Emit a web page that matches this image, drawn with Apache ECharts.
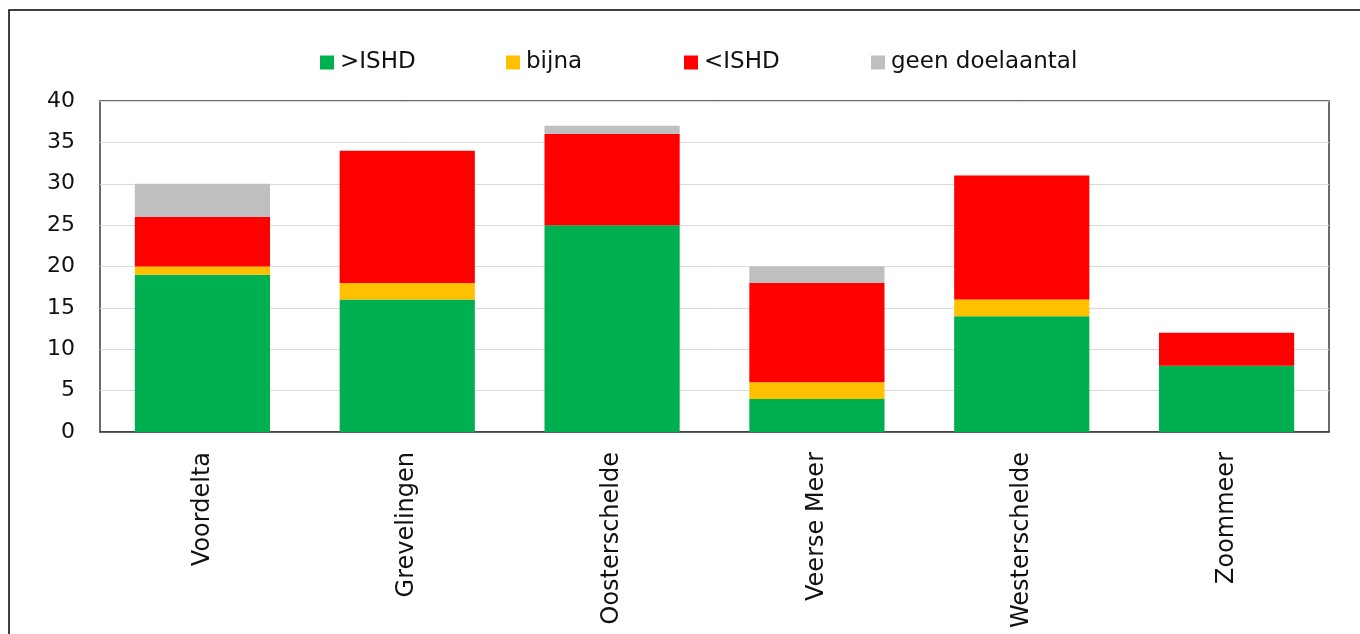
<!DOCTYPE html>
<html>
<head>
<meta charset="utf-8">
<script src="https://cdn.jsdelivr.net/npm/echarts@6/dist/echarts.min.js"></script>
<style>
  html, body { margin: 0; padding: 0; background: #ffffff; }
  #chart { width: 1360px; height: 634px; }
</style>
</head>
<body>
<div id="chart"></div>
<script>
// Areas along the Delta
const categories = ['Voordelta', 'Grevelingen', 'Oosterschelde', 'Veerse Meer', 'Westerschelde', 'Zoommeer'];

// Number of species per status class
const boven = [19, 16, 25, 4, 14, 8];      // >ISHD
const bijna = [1, 2, 0, 2, 2, 0];          // bijna
const onder = [6, 16, 11, 12, 15, 4];      // <ISHD
const geenDoel = [4, 0, 1, 2, 0, 0];       // geen doelaantal

const seriesNames = ['>ISHD', 'bijna', '<ISHD', 'geen doelaantal'];
const seriesValues = [boven, bijna, onder, geenDoel];
const seriesColors = ['#00b050', '#ffc000', '#ff0000', '#bfbfbf'];

// Y-axis ticks
const yMin = 0, yMax = 40, yStep = 5;

const font = 'DejaVu Sans';
const textColor = '#111111';

// One legend block per entry so each sits at its own spot in the row
const legendLefts = [315, 501, 679, 866];
const legends = seriesNames.map((name, i) => ({
  data: [name],
  left: legendLefts[i],
  top: 46,
  itemWidth: 14,
  itemHeight: 14,
  icon: 'rect',
  itemStyle: { borderWidth: 0 },
  textStyle: { fontFamily: font, fontSize: 23, color: textColor, padding: [0, 0, 0, 1] }
}));

const chart = echarts.init(document.getElementById('chart'), null, { renderer: 'canvas' });

chart.setOption({
  animation: false,
  backgroundColor: '#ffffff',
  legend: legends,
  grid: {
    left: 100,
    right: 31,
    top: 101,
    bottom: 202,
    show: true,
    borderColor: '#3a3a3a',
    borderWidth: 1.5,
    backgroundColor: 'transparent'
  },
  graphic: [{
    type: 'rect',
    shape: { x: 9, y: 10, width: 1400, height: 700 },
    style: { fill: 'none', stroke: '#000000', lineWidth: 1.5 },
    silent: true
  }],
  xAxis: {
    type: 'category',
    data: categories,
    axisTick: { show: false },
    axisLine: { show: true, lineStyle: { color: '#3a3a3a', width: 1.5 } },
    axisLabel: {
      rotate: 90,
      margin: 20,
      fontFamily: font,
      fontSize: 24,
      color: textColor
    }
  },
  yAxis: {
    type: 'value',
    min: yMin,
    max: yMax,
    interval: yStep,
    axisLine: { show: false },
    axisTick: { show: false },
    splitLine: { lineStyle: { color: '#d9d9d9', width: 1 } },
    axisLabel: {
      margin: 25,
      fontFamily: font,
      fontSize: 22,
      color: textColor
    }
  },
  series: seriesNames.map((name, i) => ({
    name: name,
    type: 'bar',
    stack: 'totaal',
    barWidth: '66%',
    data: seriesValues[i],
    itemStyle: { color: seriesColors[i] }
  }))
});
</script>
</body>
</html>
